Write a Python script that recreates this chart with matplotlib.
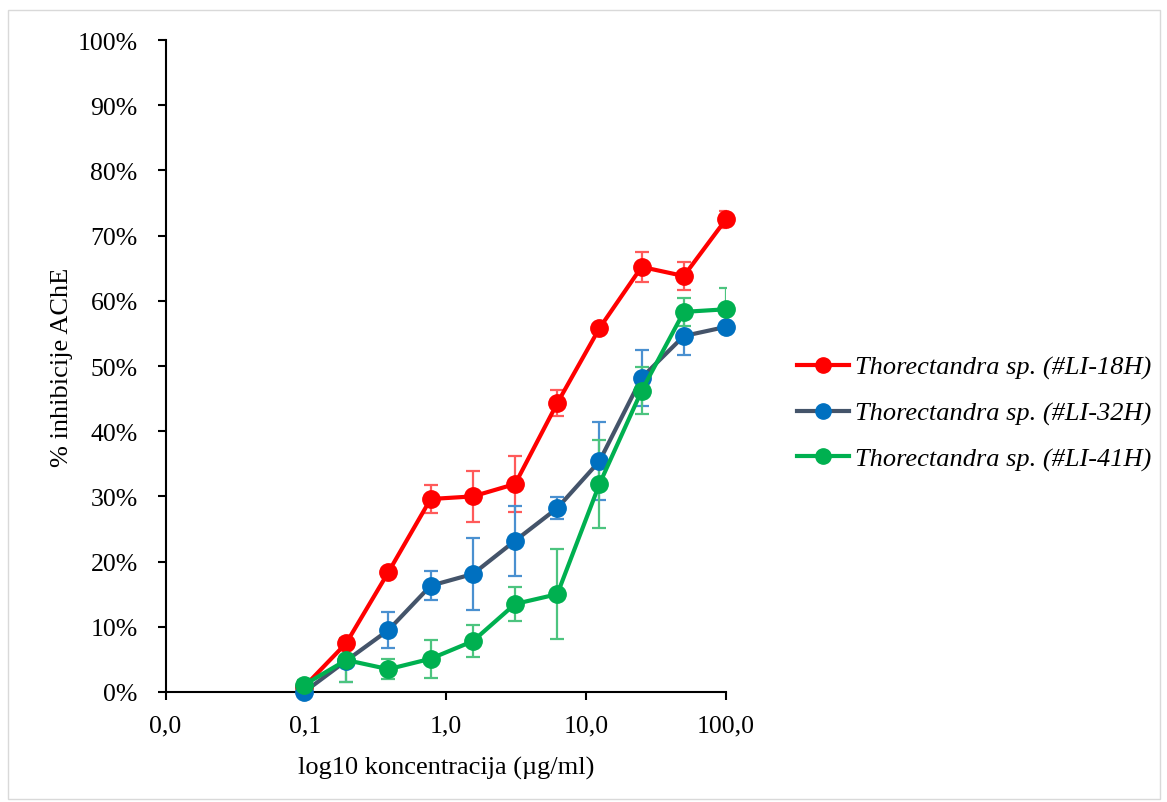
import matplotlib
matplotlib.use("Agg")
import matplotlib.pyplot as plt
from matplotlib.patches import Rectangle
from matplotlib.ticker import FixedLocator, NullLocator

plt.rcParams['font.family'] = ['Liberation Serif', 'DejaVu Serif']

conc = [0.0977, 0.195, 0.39, 0.78, 1.5625, 3.125, 6.25, 12.5, 25, 50, 100]

labels = ["Thorectandra sp. (#LI-18H)", "Thorectandra sp. (#LI-32H)", "Thorectandra sp. (#LI-41H)"]

red_vals = [0.8, 7.5, 18.4, 29.6, 30.0, 31.9, 44.3, 55.8, 65.2, 63.8, 72.5]
red_err = [0.5, 0.6, 0.6, 2.2, 3.9, 4.3, 2.0, 0.5, 2.3, 2.1, 1.3]

blue_vals = [0.0, 4.8, 9.5, 16.3, 18.1, 23.2, 28.2, 35.4, 48.2, 54.6, 56.0]
blue_err = [0.3, 3.3, 2.8, 2.2, 5.5, 5.4, 1.7, 6.0, 4.3, 2.9, 0.5]

green_vals = [1.1, 4.9, 3.5, 5.1, 7.8, 13.5, 15.0, 31.9, 46.2, 58.3, 58.7]
green_err = [0.8, 3.4, 1.5, 2.9, 2.4, 2.6, 6.9, 6.8, 3.6, 2.2, 3.3]

xticks = [0.01, 0.1, 1, 10, 100]
xtick_labels = ["0,0", "0,1", "1,0", "10,0", "100,0"]
yticks = [0, 10, 20, 30, 40, 50, 60, 70, 80, 90, 100]
ytick_labels = [f"{v}%" for v in yticks]

W, H = 1167, 803
fig = plt.figure(figsize=(W / 100, H / 100), dpi=100)
fig.patches.append(Rectangle((8 / W, 1 - 800 / H), 1152 / W, 789 / H, transform=fig.transFigure,
                             fill=False, edgecolor='#d9d9d9', linewidth=1.0))

ax = fig.add_axes([165.5 / W, 1 - 693 / H, (726 - 165.5) / W, (693 - 41) / H])

series = [
    (red_vals, red_err, '#FF0000', '#FF0000', '#FF5A5A'),
    (blue_vals, blue_err, '#44546A', '#0070C0', '#4A90D0'),
    (green_vals, green_err, '#00B050', '#00B050', '#4CC47F'),
]

handles = []
for (vals, err, lc, mc, ec), lab in zip(series, labels):
    ax.errorbar(conc, vals, yerr=err, fmt='none', ecolor=ec, elinewidth=1.6,
                capsize=5, capthick=1.6, zorder=2)
    h, = ax.plot(conc, vals, color=lc, linewidth=3, marker='o', markersize=12.5,
                 markerfacecolor=mc, markeredgecolor=mc, label=lab, zorder=3,
                 clip_on=False)
    handles.append(h)

ax.set_xscale('log')
ax.set_xlim(0.01, 100)
ax.set_ylim(0, 100)
ax.xaxis.set_major_locator(FixedLocator(xticks))
ax.xaxis.set_minor_locator(NullLocator())
ax.set_xticklabels(xtick_labels)
ax.set_yticks(yticks)
ax.set_yticklabels(ytick_labels)

for s in ['top', 'right']:
    ax.spines[s].set_visible(False)
for s in ['left', 'bottom']:
    ax.spines[s].set_linewidth(1.5)
    ax.spines[s].set_zorder(1)
ax.tick_params(axis='both', direction='out', length=6, width=1.5, labelsize=18.5, colors='black')
ax.tick_params(axis='x', pad=10)
ax.tick_params(axis='y', pad=14)

ax.set_xlabel("log10 koncentracija (µg/ml)", fontsize=19, labelpad=14)
ax.set_ylabel("% inhibicije AChE", fontsize=19, labelpad=3)

leg = fig.legend(handles=handles, loc='upper left', bbox_to_anchor=(786 / W, 1 - 346 / H),
                 frameon=False, prop={'style': 'italic', 'size': 19},
                 handlelength=2.0, handletextpad=0.23, labelspacing=0.83, borderaxespad=0)
for lh in leg.legend_handles:
    lh.set_markersize(11)

fig.savefig("out.png", dpi=100)
